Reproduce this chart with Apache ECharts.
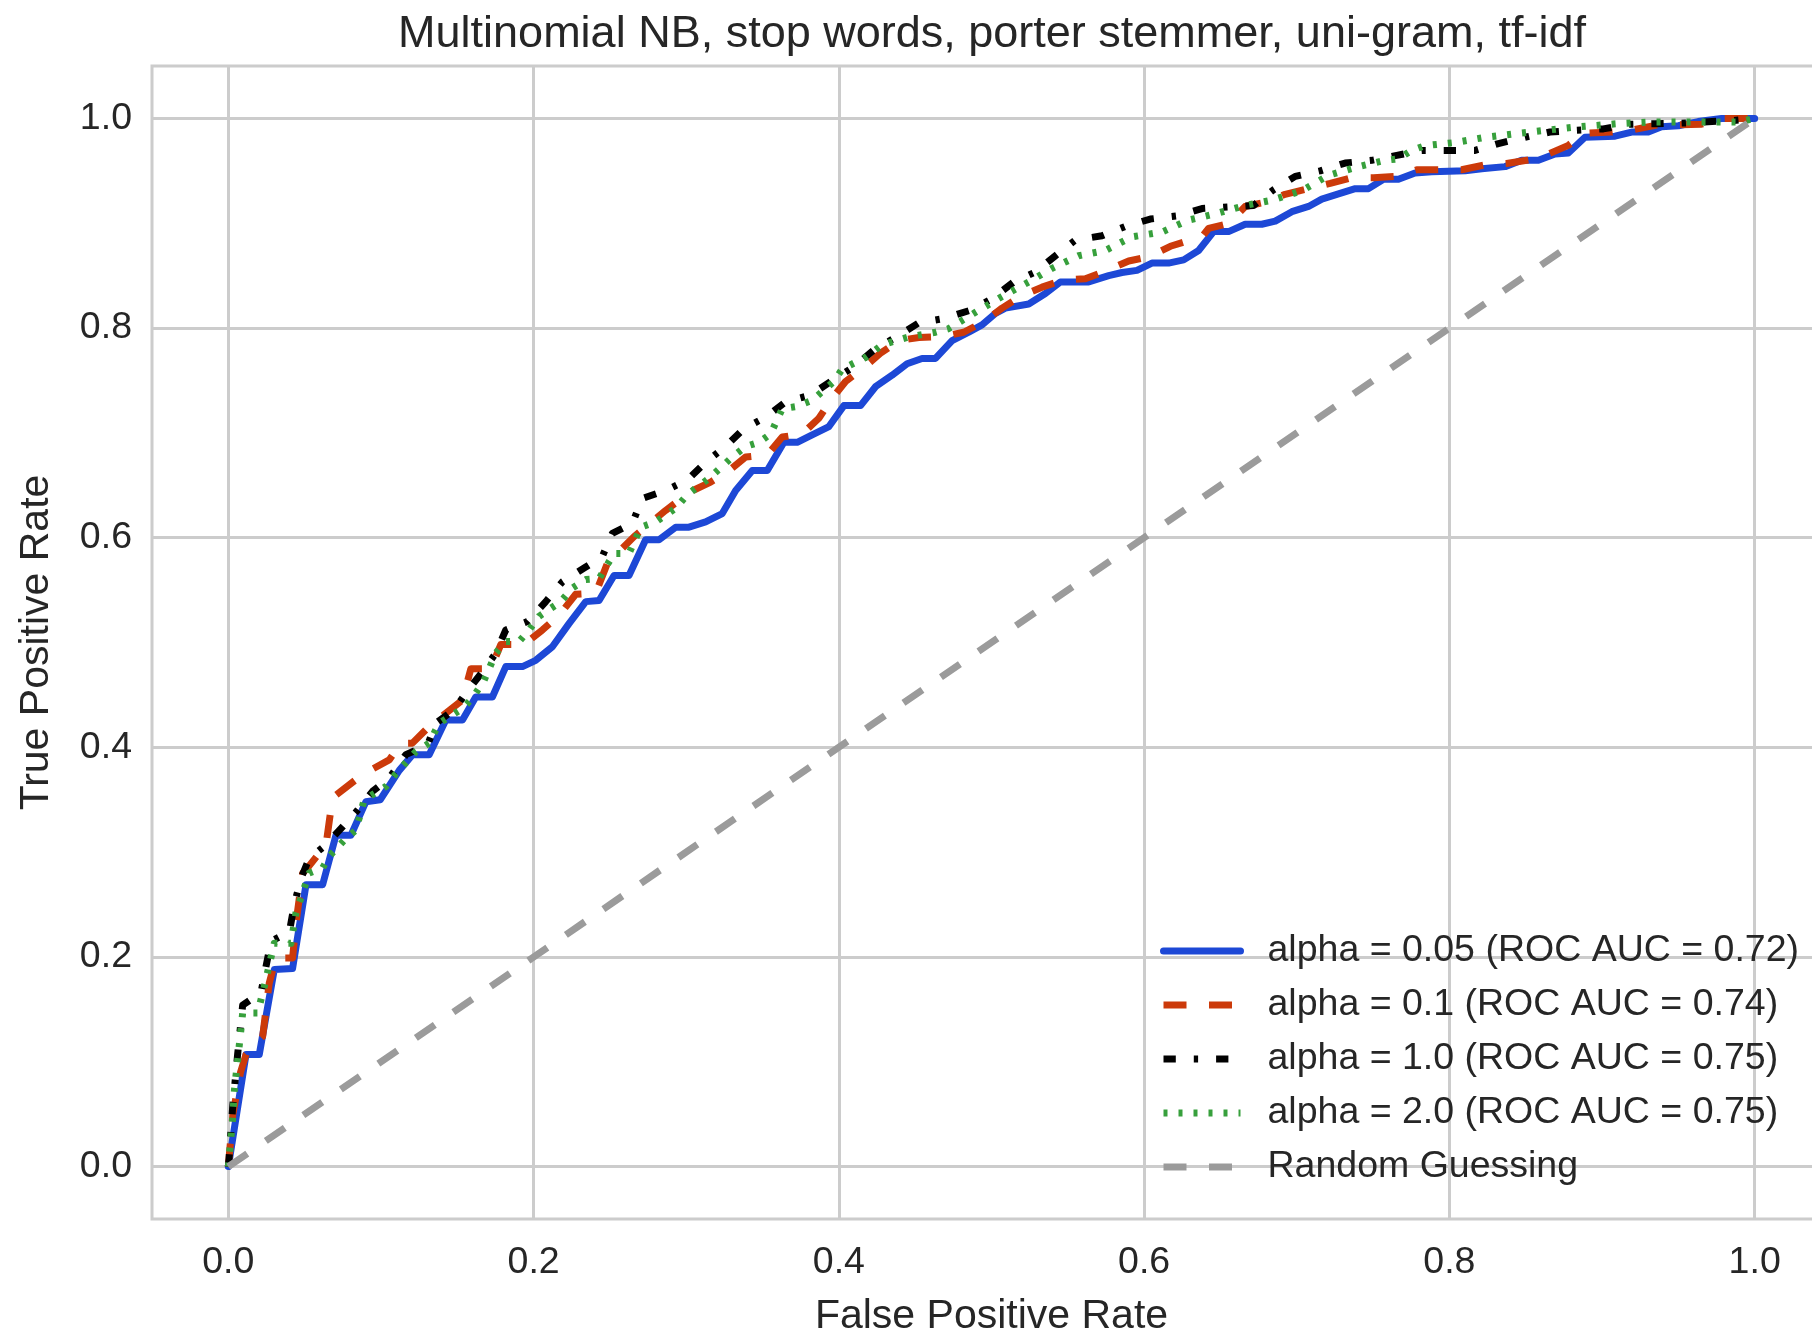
<!DOCTYPE html>
<html>
<head>
<meta charset="utf-8">
<script src="https://cdn.jsdelivr.net/npm/echarts@6/dist/echarts.min.js"></script>
<style>
html,body{margin:0;padding:0;background:#fff;}
#chart{width:1812px;height:1331px;}
</style>
</head>
<body>
<div id="chart"></div>
<script>
var titleText = 'Multinomial NB, stop words, porter stemmer, uni-gram, tf-idf';
var xAxisName = 'False Positive Rate';
var yAxisName = 'True Positive Rate';
var tickValues = [0, 0.2, 0.4, 0.6, 0.8, 1.0];
var seriesNames = [
  'alpha = 0.05 (ROC AUC = 0.72)',
  'alpha = 0.1 (ROC AUC = 0.74)',
  'alpha = 1.0 (ROC AUC = 0.75)',
  'alpha = 2.0 (ROC AUC = 0.75)',
  'Random Guessing'
];

// [false positive rate, true positive rate]
var roc005 = [[0,0],[0.0116,0.107],[0.0203,0.107],[0.0301,0.188],[0.0421,0.189],[0.0509,0.269],[0.0618,0.269],[0.0705,0.316],[0.0803,0.316],[0.0901,0.348],[0.0995,0.350],[0.112,0.378],[0.1207,0.393],[0.1316,0.393],[0.1425,0.426],[0.1534,0.426],[0.1621,0.448],[0.173,0.448],[0.1818,0.477],[0.1927,0.477],[0.2014,0.483],[0.2123,0.496],[0.2232,0.518],[0.2342,0.539],[0.2429,0.540],[0.2527,0.564],[0.2625,0.564],[0.2734,0.598],[0.2822,0.598],[0.2931,0.610],[0.3018,0.610],[0.3127,0.615],[0.3236,0.623],[0.3324,0.645],[0.3433,0.664],[0.3531,0.664],[0.364,0.691],[0.3727,0.691],[0.3825,0.698],[0.3935,0.706],[0.4033,0.726],[0.4142,0.726],[0.424,0.744],[0.4349,0.755],[0.4447,0.766],[0.4545,0.771],[0.4633,0.771],[0.4742,0.788],[0.4851,0.796],[0.4938,0.803],[0.5026,0.814],[0.5091,0.819],[0.5244,0.823],[0.5353,0.833],[0.5451,0.844],[0.5637,0.844],[0.5768,0.850],[0.5855,0.853],[0.5953,0.855],[0.6051,0.862],[0.616,0.862],[0.6259,0.865],[0.6357,0.874],[0.6455,0.892],[0.6553,0.892],[0.6662,0.899],[0.6771,0.899],[0.6859,0.902],[0.6968,0.911],[0.7077,0.916],[0.7164,0.923],[0.7273,0.928],[0.7383,0.933],[0.747,0.933],[0.7568,0.942],[0.7666,0.942],[0.7775,0.948],[0.7884,0.949],[0.8103,0.950],[0.8212,0.952],[0.8365,0.954],[0.8473,0.960],[0.8583,0.960],[0.8692,0.966],[0.8779,0.967],[0.8888,0.982],[0.9085,0.983],[0.9194,0.987],[0.9303,0.987],[0.939,0.992],[0.95,0.993],[0.963,0.997],[0.9783,1.0],[1,1]];

var roc01 = [[0,0],[0.003,0.05],[0.008,0.09],[0.0116,0.107],[0.0225,0.124],[0.0268,0.175],[0.0312,0.199],[0.0421,0.199],[0.0443,0.232],[0.0487,0.28],[0.0519,0.285],[0.064,0.307],[0.0683,0.352],[0.0879,0.374],[0.1054,0.388],[0.1131,0.404],[0.1206,0.404],[0.1316,0.42],[0.1534,0.445],[0.1589,0.475],[0.172,0.475],[0.1785,0.498],[0.1938,0.498],[0.2058,0.512],[0.2167,0.526],[0.2276,0.546],[0.2407,0.547],[0.2483,0.5755],[0.2658,0.601],[0.2865,0.626],[0.3029,0.644],[0.316,0.653],[0.328,0.664],[0.3389,0.677],[0.3531,0.679],[0.3629,0.696],[0.376,0.699],[0.3869,0.714],[0.3956,0.733],[0.4044,0.749],[0.4153,0.761],[0.4273,0.776],[0.4393,0.788],[0.4524,0.791],[0.4687,0.792],[0.4818,0.796],[0.4949,0.806],[0.5069,0.819],[0.52,0.831],[0.5331,0.839],[0.5473,0.846],[0.5615,0.847],[0.5757,0.855],[0.5899,0.864],[0.603,0.868],[0.6172,0.878],[0.6302,0.884],[0.6379,0.887],[0.6422,0.895],[0.6553,0.8996],[0.6662,0.916],[0.6793,0.92],[0.6924,0.9276],[0.7077,0.933],[0.7219,0.938],[0.736,0.9435],[0.7503,0.9435],[0.7644,0.9447],[0.7786,0.951],[0.808,0.951],[0.8244,0.956],[0.8375,0.957],[0.8528,0.9606],[0.8627,0.9647],[0.8779,0.9743],[0.8888,0.986],[0.9063,0.987],[0.9194,0.989],[0.9357,0.9936],[0.9488,0.994],[0.9652,0.9945],[0.9794,1.0],[1,1]];

var roc10 = [[0,0],[0.0005,0.008],[0.0028,0.056],[0.0061,0.107],[0.0094,0.154],[0.0214,0.166],[0.0247,0.191],[0.028,0.215],[0.04,0.224],[0.0432,0.25],[0.0476,0.275],[0.053,0.294],[0.064,0.307],[0.0748,0.324],[0.0847,0.34],[0.0945,0.358],[0.1054,0.3705],[0.1163,0.393],[0.1305,0.402],[0.136,0.423],[0.148,0.436],[0.1578,0.456],[0.1665,0.472],[0.1753,0.49],[0.1818,0.512],[0.196,0.52],[0.208,0.539],[0.2189,0.558],[0.2331,0.571],[0.245,0.582],[0.2516,0.604],[0.2647,0.6136],[0.2712,0.6374],[0.2865,0.645],[0.3007,0.655],[0.3127,0.672],[0.3258,0.687],[0.3378,0.704],[0.352,0.715],[0.3651,0.7296],[0.3815,0.736],[0.3956,0.75],[0.4098,0.763],[0.4229,0.779],[0.4382,0.792],[0.4524,0.805],[0.4687,0.809],[0.4862,0.817],[0.5004,0.828],[0.5146,0.844],[0.5288,0.8535],[0.5419,0.869],[0.555,0.884],[0.5724,0.888],[0.5877,0.897],[0.604,0.904],[0.6215,0.907],[0.6379,0.914],[0.6553,0.9155],[0.6717,0.917],[0.6848,0.932],[0.699,0.9447],[0.7154,0.95],[0.7317,0.9574],[0.7491,0.96],[0.7655,0.9647],[0.7819,0.9695],[0.8168,0.9695],[0.8321,0.976],[0.8496,0.982],[0.8659,0.987],[0.8833,0.9886],[0.9008,0.99],[0.9172,0.9943],[0.9347,0.995],[0.9521,0.9955],[0.9859,0.998],[1,1]];

var roc20 = [[0,0],[0.0028,0.045],[0.004,0.073],[0.0072,0.116],[0.0094,0.1465],[0.0192,0.1465],[0.0236,0.172],[0.0301,0.213],[0.041,0.213],[0.0443,0.242],[0.053,0.28],[0.0618,0.285],[0.0661,0.296],[0.077,0.313],[0.0836,0.321],[0.089,0.35],[0.1032,0.3626],[0.1098,0.375],[0.1229,0.396],[0.1316,0.404],[0.1381,0.423],[0.1534,0.437],[0.16,0.447],[0.1676,0.464],[0.1753,0.49],[0.1818,0.501],[0.1905,0.501],[0.197,0.512],[0.2036,0.525],[0.2178,0.539],[0.2254,0.552],[0.2342,0.56],[0.2429,0.561],[0.2527,0.585],[0.2625,0.585],[0.2702,0.61],[0.28,0.615],[0.2931,0.628],[0.3007,0.641],[0.3149,0.6565],[0.3302,0.677],[0.3389,0.687],[0.3476,0.691],[0.3553,0.699],[0.3629,0.723],[0.3716,0.725],[0.3825,0.731],[0.3967,0.749],[0.4022,0.761],[0.4175,0.772],[0.4284,0.784],[0.4458,0.7915],[0.4633,0.796],[0.472,0.7995],[0.4895,0.815],[0.5069,0.83],[0.5244,0.844],[0.5397,0.857],[0.5571,0.869],[0.5746,0.874],[0.592,0.887],[0.6117,0.8916],[0.6291,0.903],[0.6466,0.909],[0.6662,0.917],[0.6837,0.922],[0.7033,0.931],[0.7208,0.9457],[0.7393,0.9536],[0.7579,0.96],[0.7666,0.9615],[0.7753,0.9695],[0.7841,0.974],[0.8037,0.977],[0.8234,0.982],[0.843,0.9854],[0.8627,0.9886],[0.8823,0.9917],[0.9106,0.995],[0.9303,0.9965],[0.9892,0.9965],[1,1]];

var randomGuess = [[0,0],[1,1]];

var FONT = '"Liberation Sans", Arial, Helvetica, sans-serif';
var TEXT = '#262626';
var GRID = '#cccccc';

var chart = echarts.init(document.getElementById('chart'), null, {renderer: 'canvas'});

function lineSeries(name, data, color, width, dash, cap) {
  return {
    name: name, type: 'line', data: data, symbol: 'none', showSymbol: false,
    animation: false, silent: true,
    lineStyle: {color: color, width: width, type: dash, cap: cap, join: 'round'},
    itemStyle: {color: color}
  };
}

var option = {
  animation: false,
  backgroundColor: '#ffffff',
  textStyle: {fontFamily: FONT, color: TEXT},
  title: {
    text: titleText, left: 992, top: 12, textAlign: 'center', padding: 0,
    textStyle: {fontFamily: FONT, fontSize: 45, fontWeight: 'normal', color: TEXT}
  },
  grid: {
    left: 152, right: -19, top: 66, bottom: 112,
    show: true, borderColor: GRID, borderWidth: 3, backgroundColor: '#ffffff',
    containLabel: false, outerBoundsMode: 'none'
  },
  legend: {
    orient: 'vertical', left: 1160, top: 929, padding: 0,
    itemWidth: 77, itemHeight: 20, itemGap: 10,
    selectedMode: false,
    itemStyle: {opacity: 0, borderWidth: 0},
    lineStyle: {width: 7},
    textStyle: {fontFamily: FONT, fontSize: 37.5, color: TEXT, lineHeight: 44, padding: [0, 0, 0, 22]},
    data: seriesNames
  },
  xAxis: {
    type: 'value', min: -0.05, max: 1.05,
    name: xAxisName, nameLocation: 'middle', nameGap: 77,
    nameTextStyle: {fontFamily: FONT, fontSize: 41, color: TEXT},
    axisLine: {show: false},
    axisTick: {show: false, customValues: tickValues},
    axisLabel: {customValues: tickValues, margin: 25, fontFamily: FONT, fontSize: 37.5, color: TEXT,
      formatter: function (v) { return v.toFixed(1); }},
    splitLine: {show: true, lineStyle: {color: GRID, width: 3}}
  },
  yAxis: {
    type: 'value', min: -0.05, max: 1.05,
    name: yAxisName, nameLocation: 'middle', nameGap: 95, nameRotate: 90,
    nameTextStyle: {fontFamily: FONT, fontSize: 41, color: TEXT},
    axisLine: {show: false},
    axisTick: {show: false, customValues: tickValues},
    axisLabel: {customValues: tickValues, margin: 20, fontFamily: FONT, fontSize: 37.5, color: TEXT,
      formatter: function (v) { return v.toFixed(1); }},
    splitLine: {show: true, lineStyle: {color: GRID, width: 3}}
  },
  series: [
    lineSeries(seriesNames[0], roc005, '#1d48d6', 7, 'solid', 'round'),
    lineSeries(seriesNames[1], roc01, '#cc3a0a', 7, [23, 22.5], 'butt'),
    lineSeries(seriesNames[2], roc10, '#000000', 7, [12.3, 18, 4.3, 18], 'butt'),
    lineSeries(seriesNames[3], roc20, '#37a03c', 7, [4, 11], 'butt'),
    lineSeries(seriesNames[4], randomGuess, '#9b9b9b', 7, [23, 22.5], 'butt')
  ]
};
chart.setOption(option);
</script>
</body>
</html>
